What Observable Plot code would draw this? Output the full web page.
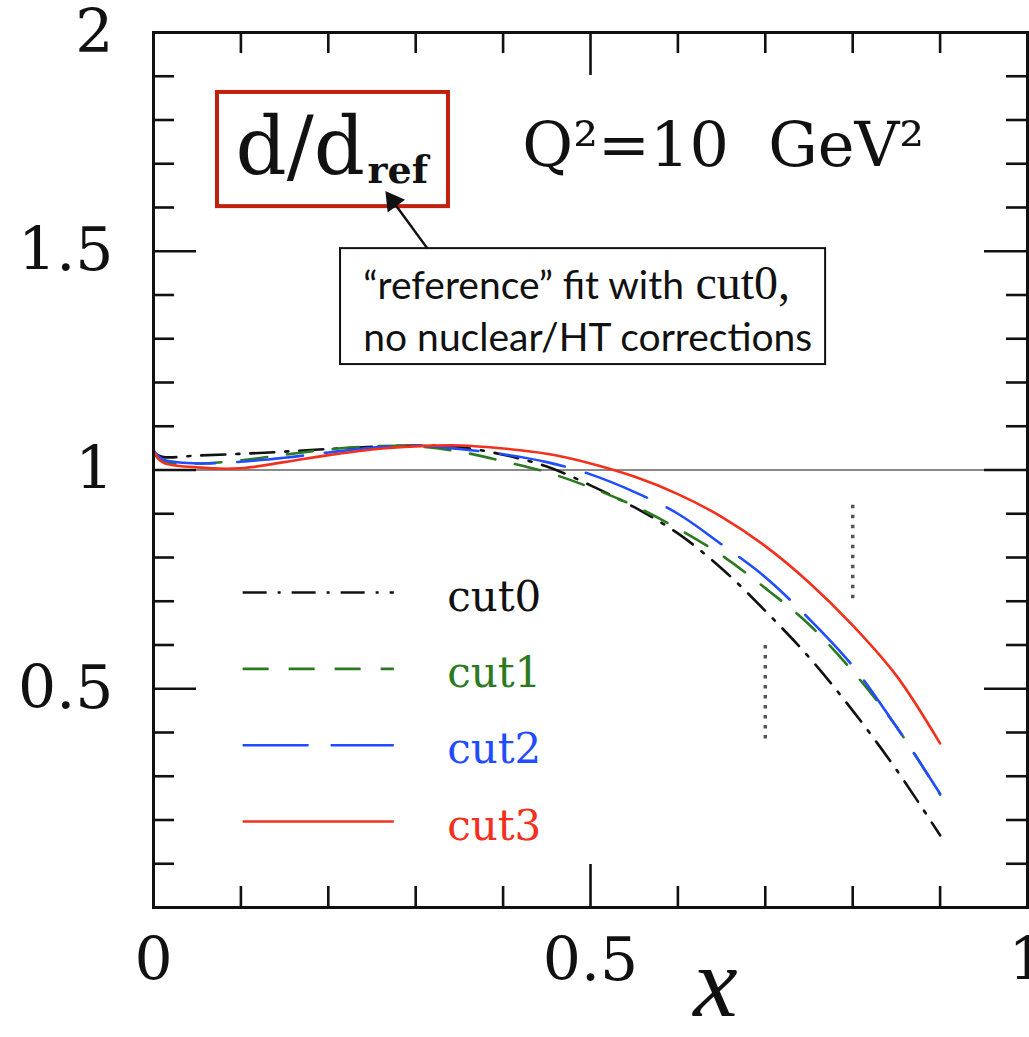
<!DOCTYPE html>
<html><head><meta charset="utf-8">
<script src="https://cdn.jsdelivr.net/npm/d3@7"></script>
<script src="https://cdn.jsdelivr.net/npm/@observablehq/plot@0.6"></script>
<style>body{margin:0;background:#fff} #chart{width:1029px;height:1037px}</style>
</head><body><div id="chart"></div>
<script>
// ---- data ----
const xGrid = [0, 0.01, 0.05, 0.1, 0.15, 0.2, 0.25, 0.3, 0.35, 0.4, 0.45, 0.5, 0.55, 0.6, 0.65, 0.7, 0.75, 0.8, 0.85, 0.9];
const cut0 = [1.04, 1.03, 1.033, 1.037, 1.042, 1.048, 1.053, 1.056, 1.052, 1.035, 1.008, 0.965, 0.915, 0.855, 0.775, 0.678, 0.572, 0.45, 0.315, 0.165];
const cut1 = [1.04, 1.02, 1.015, 1.022, 1.035, 1.047, 1.054, 1.054, 1.042, 1.02, 0.995, 0.96, 0.918, 0.866, 0.805, 0.73, 0.647, 0.54, 0.413, 0.258];
const cut2 = [1.045, 1.025, 1.015, 1.019, 1.028, 1.04, 1.051, 1.056, 1.048, 1.036, 1.018, 0.99, 0.95, 0.9, 0.83, 0.755, 0.66, 0.552, 0.413, 0.26];
const cut3 = [1.045, 1.018, 1.006, 1.004, 1.018, 1.034, 1.047, 1.054, 1.056, 1.049, 1.037, 1.015, 0.985, 0.945, 0.893, 0.826, 0.743, 0.645, 0.53, 0.375];
const seriesNames = ["cut0", "cut1", "cut2", "cut3"];
const seriesValues = [cut0, cut1, cut2, cut3];

const xTickLabels = [0, 0.5, 1];
const yTickLabels = [0.5, 1, 1.5, 2];
const xMinorTicks = [0.1, 0.2, 0.3, 0.4, 0.6, 0.7, 0.8, 0.9];
const xMajorTicks = [0.5];
const yMinorTicks = [0.1, 0.2, 0.3, 0.4, 0.6, 0.7, 0.8, 0.9, 1.1, 1.2, 1.3, 1.4, 1.6, 1.7, 1.8, 1.9];
const yMajorTicks = [0.5, 1, 1.5];
const referenceLevel = [1];
const cutBoundaryX = [0.7, 0.8];
const cutBoundaryLow = [0.385, 0.706];
const cutBoundaryHigh = [0.606, 0.923];

// ---- layout & style ----
const W = 1029, H = 1037, mT = 32, mB = 130, mL = 153, mR = 2;
const iW = W - mL - mR, iH = H - mT - mB;
const minorLen = 21, majorLen = 43;
const styles = {
  cut0: {stroke: "#111111", dash: "24,11,3,11"},
  cut1: {stroke: "#2b7a1f", dash: "26,20"},
  cut2: {stroke: "#1f4dff", dash: "66,22"},
  cut3: {stroke: "#f2301c", dash: null}
};

const rows = seriesNames.flatMap((s, i) => xGrid.map((x, j) => ({series: s, x, y: seriesValues[i][j]})));
const boundaries = cutBoundaryX.map((x, i) => ({x, y1: cutBoundaryLow[i], y2: cutBoundaryHigh[i]}));

const lineMarks = seriesNames.map(s => Plot.line(rows.filter(d => d.series === s), {
  x: "x", y: "y", stroke: styles[s].stroke, strokeWidth: 2.6,
  strokeDasharray: styles[s].dash, curve: "catmull-rom"
}));

// legend (inside the frame)
const legX1 = 0.102, legX2 = 0.275, legTextX = 0.336, legTop = 0.72, legStep = 0.1745;
const legendRows = seriesNames.map((s, i) => ({series: s, y: legTop - i * legStep}));
const legendMarks = legendRows.flatMap(r => [
  Plot.link([r], {x1: () => legX1, x2: () => legX2, y1: "y", y2: "y",
    stroke: styles[r.series].stroke, strokeWidth: 2.6, strokeDasharray: styles[r.series].dash}),
  Plot.text([r], {x: () => legTextX, y: "y", text: "series", dy: 18, lineAnchor: "bottom",
    textAnchor: "start", fill: styles[r.series].stroke, fontSize: 42, fontFamily: "DejaVu Serif", ariaLabel: "legend-text"})
]);

const tickStyle = {stroke: "#111", strokeWidth: 2.6};
const fmt = d => String(d);

const chart = Plot.plot({
  width: W, height: H, marginTop: mT, marginBottom: mB, marginLeft: mL, marginRight: mR,
  style: {fontFamily: "DejaVu Serif", color: "#111", background: "white", overflow: "visible"},
  x: {domain: [0, 1], label: null},
  y: {domain: [0, 2], label: null},
  marks: [
    Plot.ruleY(referenceLevel, {stroke: "#8a8a8a", strokeWidth: 2}),
    Plot.ruleX(boundaries, {x: "x", y1: "y1", y2: "y2", stroke: "#555", strokeWidth: 3.5, strokeDasharray: "3.5,6.5"}),
    ...lineMarks,
    ...legendMarks,
    // inward ticks on four sides
    Plot.tickX(xMinorTicks, {x: d => d, insetTop: iH - minorLen, ...tickStyle}),
    Plot.tickX(xMajorTicks, {x: d => d, insetTop: iH - majorLen, ...tickStyle}),
    Plot.tickX(xMinorTicks, {x: d => d, insetBottom: iH - minorLen, ...tickStyle}),
    Plot.tickX(xMajorTicks, {x: d => d, insetBottom: iH - majorLen, ...tickStyle}),
    Plot.tickY(yMinorTicks, {y: d => d, insetRight: iW - minorLen, ...tickStyle}),
    Plot.tickY(yMajorTicks, {y: d => d, insetRight: iW - majorLen, ...tickStyle}),
    Plot.tickY(yMinorTicks, {y: d => d, insetLeft: iW - minorLen, ...tickStyle}),
    Plot.tickY(yMajorTicks, {y: d => d, insetLeft: iW - majorLen, ...tickStyle}),
    Plot.frame({stroke: "#111", strokeWidth: 3}),
    Plot.axisX(xTickLabels, {tickSize: 0, tickPadding: 30, fontSize: 60, fontFamily: "DejaVu Serif", tickFormat: fmt}),
    Plot.axisY(yTickLabels, {tickSize: 0, tickPadding: 40, fontSize: 60, fontFamily: "DejaVu Serif", tickFormat: fmt}),
    Plot.text(["x"], {x: () => 0.643, y: () => 0, dy: 108, lineAnchor: "bottom", fontSize: 100,
      fontStyle: "italic", fontFamily: "Liberation Serif", fill: "#111"}),
    // annotations
    Plot.rect([0], {x1: () => 0.0732, x2: () => 0.3375, y1: () => 1.602, y2: () => 1.863,
      fill: "none", stroke: "#c0200e", strokeWidth: 4}),
    Plot.text(["d/d"], {x: () => 0.0938, y: () => 1.6777, lineAnchor: "bottom", textAnchor: "start",
      fontSize: 80, fontFamily: "DejaVu Serif", fill: "#111"}),
    Plot.text(["ref"], {x: () => 0.2449, y: () => 1.655, lineAnchor: "bottom", textAnchor: "start",
      fontSize: 38, fontWeight: "bold", fontFamily: "DejaVu Serif", fill: "#111"}),
    Plot.text(["Q²=10  GeV²"], {x: () => 0.422, y: () => 1.696, lineAnchor: "bottom", textAnchor: "start",
      fontSize: 62, fontFamily: "DejaVu Serif", fill: "#111"}),
    Plot.rect([0], {x1: () => 0.214, x2: () => 0.769, y1: () => 1.241, y2: () => 1.506,
      fill: "white", stroke: "#111", strokeWidth: 2}),
    Plot.link([0], {x1: () => 0.3135, y1: () => 1.506, x2: () => 0.2737, y2: () => 1.6146, stroke: "#111", strokeWidth: 2.5}),
    Plot.dot([0], {x: () => 0.2737, y: () => 1.6146, symbol: "triangle", r: 8, fill: "#111", rotate: -36}),
    Plot.text(["“reference” fit with"], {x: () => 0.240, y: () => 1.392, lineAnchor: "bottom", textAnchor: "start",
      fontSize: 39, fontFamily: "Lato", fill: "#111"}),
    Plot.text(["cut0,"], {x: () => 0.620, y: () => 1.392, lineAnchor: "bottom", textAnchor: "start",
      fontSize: 48, fontFamily: "Liberation Serif", fill: "#111", ariaLabel: "cut0-text"}),
    Plot.text(["no nuclear/HT corrections"], {x: () => 0.240, y: () => 1.273, lineAnchor: "bottom", textAnchor: "start",
      fontSize: 39, fontFamily: "Lato", fill: "#111"})
  ]
});
document.getElementById("chart").appendChild(chart);
d3.select(chart).selectAll('g[aria-label="legend-text"] text').style("letter-spacing", "8px");
d3.select(chart).selectAll('g[aria-label="cut0-text"] text').style("letter-spacing", "2px");
</script>
</body></html>
